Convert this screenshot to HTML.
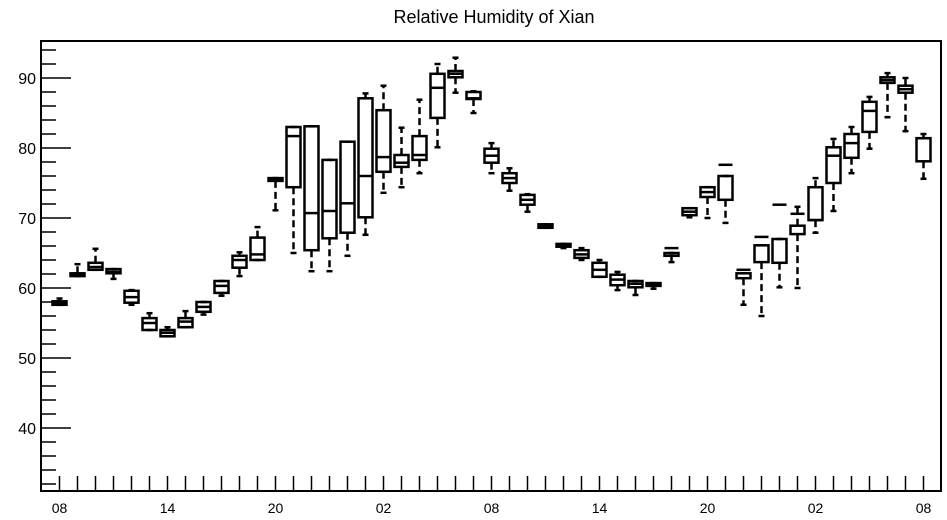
<!DOCTYPE html>
<html><head><meta charset="utf-8"><style>
body{margin:0;background:#fff;}
svg{display:block;font-family:"Liberation Sans",sans-serif;}
</style></head><body>
<svg id="chart" width="947" height="520">
<rect width="947" height="520" fill="#fff"/>
<text x="494" y="23" font-size="18" text-anchor="middle">Relative Humidity of Xian</text>
<g id="plot"></g>
</svg>
<script>
const hours = ["08","09","10","11","12","13","14","15","16","17","18","19","20","21","22","23","00","01","02","03","04","05","06","07","08","09","10","11","12","13","14","15","16","17","18","19","20","21","22","23","00","01","02","03","04","05","06","07","08"];
const q1 = [57.6,61.7,62.6,62.1,57.9,54.0,53.1,54.4,56.6,59.3,62.9,64.0,75.3,74.4,65.4,67.1,67.9,70.1,76.6,77.3,78.3,84.3,90.1,87.0,77.9,75.0,71.9,68.6,65.9,64.3,61.6,60.4,60.1,60.3,64.6,70.4,73.0,72.6,61.4,63.7,63.6,67.7,69.7,75.0,78.6,82.3,89.3,87.9,78.1];
const med = [57.9,61.9,63.0,62.3,58.7,55.0,53.6,55.2,57.3,60.3,64.0,64.8,75.5,81.7,70.7,71.0,72.1,76.0,78.7,77.9,79.0,88.6,90.6,87.1,78.9,75.7,72.6,68.8,66.1,64.8,62.6,61.2,60.6,60.5,65.7,70.9,73.7,77.6,62.6,67.3,71.9,70.6,69.7,78.9,80.7,85.3,89.7,88.4,81.4];
const q3 = [58.1,62.1,63.6,62.7,59.6,55.7,54.0,55.7,58.0,61.0,64.6,67.2,75.7,83.0,83.1,78.3,80.9,87.1,85.4,79.0,81.7,90.6,91.0,88.0,79.9,76.4,73.3,69.1,66.3,65.4,63.6,61.9,61.0,60.7,65.0,71.4,74.4,76.0,62.1,66.1,67.0,68.9,74.4,80.1,82.0,86.6,90.1,88.9,81.4];
const lo = [57.6,61.7,62.6,61.3,57.6,54.0,53.1,54.4,56.2,58.9,61.7,64.0,71.1,65.0,62.4,62.4,64.6,67.6,73.6,74.4,76.4,80.1,87.9,85.0,76.4,73.9,70.9,68.6,65.7,64.0,61.6,59.7,59.0,59.9,63.7,70.1,70.0,69.3,57.6,56.0,60.1,60.0,67.9,71.0,76.4,79.9,84.4,82.4,75.6];
const hi = [58.5,63.4,65.6,62.7,59.7,56.4,54.4,56.7,58.0,61.0,65.1,68.7,75.7,83.0,83.1,78.3,80.9,87.8,88.9,82.9,86.9,92.0,92.9,88.1,80.7,77.1,73.4,69.1,66.3,65.7,64.0,62.3,61.0,60.7,65.0,71.4,74.4,76.0,62.1,66.1,67.0,71.6,75.7,81.3,83.0,87.3,90.7,90.0,82.0];
const yTicks = [40,50,60,70,80,90];

const NS="http://www.w3.org/2000/svg";
const L=41,R=941,T=41,B=491;
const yScale = v => 78 + (90 - v) * 7;
const xScale = i => 59.5 + 18 * i;
const g=document.getElementById('plot');
function mk(tag,attrs){const e=document.createElementNS(NS,tag);for(const k in attrs)e.setAttribute(k,attrs[k]);g.appendChild(e);return e;}

// frame
const frame=mk('rect',{x:L,y:T,width:R-L,height:B-T,fill:'none',stroke:'#000','stroke-width':2});



// y ticks
for(let v=32;v<=94;v+=2){
  const y=yScale(v); const major=v%10===0;
  const t=mk('line',{x1:L,x2:L+(major?30:15),y1:y,y2:y,stroke:'#000','stroke-width':1.5});
  
  
}
yTicks.forEach(v=>{
  const t=mk('text',{x:L-5,y:yScale(v)+6,'font-size':16,'text-anchor':'end'});
  t.textContent=v;
  
  
});
// x ticks
hours.forEach((h,i)=>{
  const x=xScale(i);
  const t=mk('line',{x1:x,x2:x,y1:B,y2:B-15,stroke:'#000','stroke-width':1.5});
  
  
  if(i%6===0){
    const l=mk('text',{x:x,y:513,'font-size':14,'text-anchor':'middle'});
    l.textContent=h;
    
    
  }
});
// boxes
hours.forEach((h,i)=>{
  const x=xScale(i), w=14;
  const yq1=yScale(q1[i]), yq3=yScale(q3[i]), ym=yScale(med[i]), yl=yScale(lo[i]), yh=yScale(hi[i]);
  const wl=mk('line',{x1:x,x2:x,y1:yq1,y2:yl,stroke:'#000','stroke-width':2.5,'stroke-dasharray':'7,4'});
  
  
  const wh=mk('line',{x1:x,x2:x,y1:yq3,y2:yh,stroke:'#000','stroke-width':2.5,'stroke-dasharray':'7,4'});
  
  
  [yl,yh].forEach(yy=>{
    const c=mk('line',{x1:x-3,x2:x+3,y1:yy,y2:yy,stroke:'#000','stroke-width':2.5});
    
    
  });
  const b=mk('rect',{x:x-w/2,y:Math.min(yq1,yq3),width:w,height:Math.max(1,Math.abs(yq1-yq3)),fill:'none',stroke:'#000','stroke-width':2.5});
  
  
  const m=mk('line',{x1:x-w/2,x2:x+w/2,y1:ym,y2:ym,stroke:'#000','stroke-width':2.5});
  
  
});
</script>
</body></html>
